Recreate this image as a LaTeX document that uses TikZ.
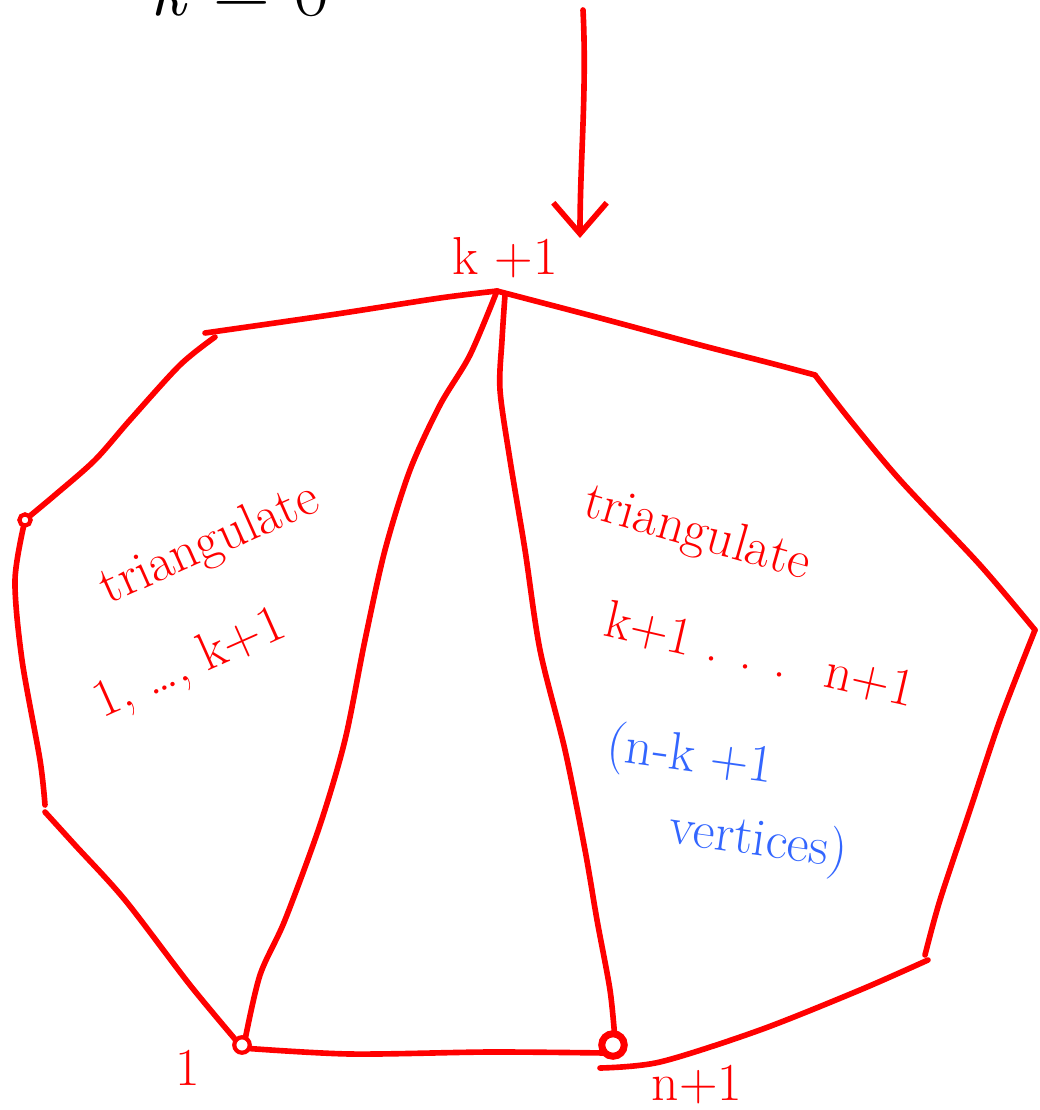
\documentclass[tikz,border=0pt]{standalone}
\usepackage{tikz}
\usetikzlibrary{arrows.meta,positioning,calc}
\definecolor{penred}{RGB}{255,0,0}
\definecolor{penblue}{RGB}{51,102,255}
\tikzset{
  edge/.style={penred, line width=4pt, line cap=round, line join=round},
  note/.style={penred, font=\fontsize{38}{44}\selectfont},
  vdot/.style={circle, draw=penred, line width=3pt, fill=white, inner sep=0pt, minimum size=11pt},
}

\begin{document}
\begin{tikzpicture}[x=0.025cm, y=-0.025cm]
  \useasboundingbox (0,0) rectangle (1039,1110);

  % corners of the polygon
  \coordinate (vk) at (497,291);
  \coordinate (c1) at (205,333);
  \coordinate (c2) at (25,520);
  \coordinate (c3) at (45,805);
  \coordinate (c5) at (928,960);
  \coordinate (c6) at (1035,630);
  \coordinate (c7) at (815,375);

  % boundary
  \draw[edge] plot[smooth] coordinates {(vk) (440,298) (330,315) (c1)};
  \draw[edge] plot[smooth] coordinates {(215,337) (180,365) (130,420) (95,460) (55,495) (c2)};
  \draw[edge] plot[smooth] coordinates {(c2) (15,580) (22,660) (40,760) (c3)};
  \draw[edge] plot[smooth] coordinates {(45,812) (75,845) (125,900) (190,985) (240,1045)};
  \draw[edge] plot[smooth] coordinates {(242,1048) (350,1054) (490,1052) (605,1053)};
  \draw[edge] plot[smooth] coordinates {(600,1068) (660,1062) (760,1030) (860,990) (c5)};
  \draw[edge] plot[smooth] coordinates {(925,955) (940,900) (970,810) (1000,720) (c6)};
  \draw[edge] plot[smooth] coordinates {(c6) (980,565) (900,480) (850,420) (c7)};
  \draw[edge] plot[smooth] coordinates {(c7) (770,363) (700,345) (600,318) (vk)};

  % diagonals from k+1
  \draw[edge] plot[smooth] coordinates {(vk) (470,355) (440,405) (410,470) (385,550)
    (365,640) (345,740) (320,825) (285,920) (260,975) (245,1040)};
  \draw[edge] plot[smooth] coordinates {(505,295) (502,340) (500,390) (510,460) (525,550)
    (540,650) (565,750) (585,850) (597,920) (610,990) (615,1040)};

  \node[vdot, minimum size=8pt] (vc) at (c2) {};
  \node[vdot] (v1) at (242,1045) {};
  \node[vdot, minimum size=16pt, line width=5pt] (vn) at (613,1045) {};

  % incoming arrow
  \coordinate (atop) at (583,10);
  \coordinate (atip) at (580,238);
  \draw[edge, -{Straight Barb[length=22pt, width=38pt, line width=4pt]}] (atop) .. controls (587,90) and (580,160) .. (atip);

  % vertex labels
  \node[note] (lk) at (505,258) {k +1};
  \node[note] (l1) at (188,1068) {1};
  \node[note] (ln) at (697,1085) {n+1};

  % region texts
  \node[note, rotate=24] (tl) at (210,545) {triangulate};
  \node[note, rotate=24] (tlr) at (190,665) {1, \ldots, k+1};
  \node[note, rotate=-16] (tr) at (697,535) {triangulate};
  \node[note, rotate=-13] (trr) at (760,655) {k+1 . . . \ n+1};
  \node[note, penblue, rotate=-8] (b1) at (690,758) {(n-k +1};
  \node[note, penblue, rotate=-8] (b2) at (758,842) {vertices)};

  % cut-off note at the top
  \node[font=\fontsize{56}{64}\selectfont, anchor=base] (kz) at (240,16) {\textit{k} = 0};
\end{tikzpicture}
\end{document}
